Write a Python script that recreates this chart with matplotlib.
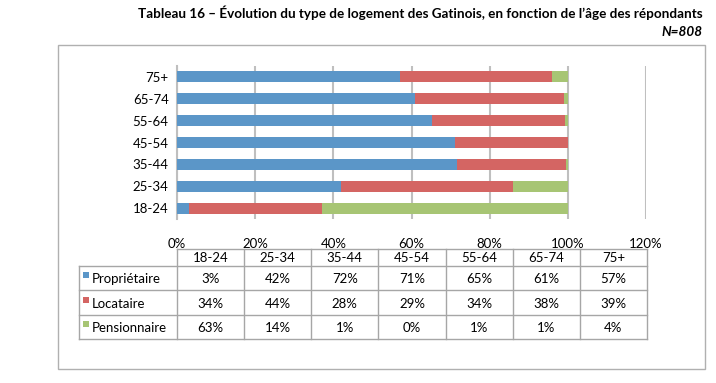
import matplotlib.pyplot as plt
from matplotlib.lines import Line2D
from matplotlib.patches import Rectangle

ages = ['18-24', '25-34', '35-44', '45-54', '55-64', '65-74', '75+']
series = ['Propriétaire', 'Locataire', 'Pensionnaire']
# bar lengths (unrounded)
proprietaire = [3.0, 42.0, 71.6, 71.2, 65.2, 61.0, 57.0]
locataire = [34.0, 44.0, 28.0, 28.8, 34.0, 38.0, 39.0]
pensionnaire = [63.0, 14.0, 0.4, 0.0, 0.8, 1.0, 4.0]
# values printed in the table
tab_proprietaire = [3, 42, 72, 71, 65, 61, 57]
tab_locataire = [34, 44, 28, 29, 34, 38, 39]
tab_pensionnaire = [63, 14, 1, 0, 1, 1, 4]
colors = ['#5B96C8', '#D46563', '#A7C574']
xticks = [0, 20, 40, 60, 80, 100, 120]

W, H = 716, 383
plt.rcParams['font.family'] = ['Lato', 'DejaVu Sans']
fig = plt.figure(figsize=(W / 100, H / 100), dpi=100)


def fx(x):
    return x / W


def fy(y):
    return 1 - y / H


grey = '#BFBFBF'

# outer frame
fig.add_artist(Rectangle((fx(58), fy(369)), fx(705) - fx(58), fy(45) - fy(369),
                         transform=fig.transFigure, fill=False, ec='#B0B0B0', lw=1))

fig.text(fx(703), fy(13), 'Tableau 16 – Évolution du type de logement des Gatinois, en fonction de l’âge des répondants',
         ha='right', va='center', fontsize=9.7, fontweight='bold')
fig.text(fx(703), fy(32), 'N=808', ha='right', va='center', fontsize=9.7,
         fontweight='bold', style='italic')

ax = fig.add_axes([fx(177), fy(219), fx(646) - fx(177), fy(66) - fy(219)])
y = list(range(len(ages)))
left = [0] * len(ages)
for vals, c, name in zip([proprietaire, locataire, pensionnaire], colors, series):
    ax.barh(y, vals, left=left, height=0.5, color=c, label=name, zorder=3)
    left = [a + b for a, b in zip(left, vals)]

ax.set_xlim(0, 120)
ax.set_ylim(-0.5, len(ages) - 0.5)
ax.set_yticks(y)
ax.set_yticklabels(ages, fontsize=9.5)
ax.set_xticks(xticks)
ax.set_xticklabels([f'{t}%' for t in xticks], fontsize=9.5)
ax.tick_params(length=0, pad=6)
ax.tick_params(axis='x', pad=14)
ax.grid(axis='x', color=grey, lw=1.5, zorder=0)
for s in ['top', 'right', 'bottom']:
    ax.spines[s].set_visible(False)
ax.spines['left'].set_color(grey)
ax.spines['left'].set_linewidth(1.5)

# data table
tl, lc, tr = 79, 177, 647
cw = (tr - lc) / len(ages)
rows_y = [249, 266, 290, 315, 339]
tc = '#A6A6A6'


def hline(x0, x1, yy):
    fig.add_artist(Line2D([fx(x0), fx(x1)], [fy(yy), fy(yy)], transform=fig.transFigure, color=tc, lw=1))


def vline(xx, y0, y1):
    fig.add_artist(Line2D([fx(xx), fx(xx)], [fy(y0), fy(y1)], transform=fig.transFigure, color=tc, lw=1))


hline(lc, tr, rows_y[0])
for yy in rows_y[1:]:
    hline(tl, tr, yy)
vline(tl, rows_y[1], rows_y[-1])
for i in range(len(ages) + 1):
    vline(lc + i * cw, rows_y[0], rows_y[-1])

for i, a in enumerate(ages):
    fig.text(fx(lc + (i + 0.5) * cw), fy((rows_y[0] + rows_y[1]) / 2 + 1), a,
             ha='center', va='center', fontsize=9.5)

tab_rows = [tab_proprietaire, tab_locataire, tab_pensionnaire]
for r, (vals, c, name) in enumerate(zip(tab_rows, colors, series)):
    yc = (rows_y[r + 1] + rows_y[r + 2]) / 2 + 1
    fig.add_artist(Rectangle((fx(83), fy(yc - 1)), fx(89) - fx(83), fy(yc - 7) - fy(yc - 1),
                             transform=fig.transFigure, color=c, lw=0))
    fig.text(fx(92), fy(yc), name, ha='left', va='center', fontsize=9.5)
    for i, v in enumerate(vals):
        fig.text(fx(lc + (i + 0.5) * cw), fy(yc), f'{v}%', ha='center', va='center', fontsize=9.5)

fig.savefig('out.png', dpi=100)
